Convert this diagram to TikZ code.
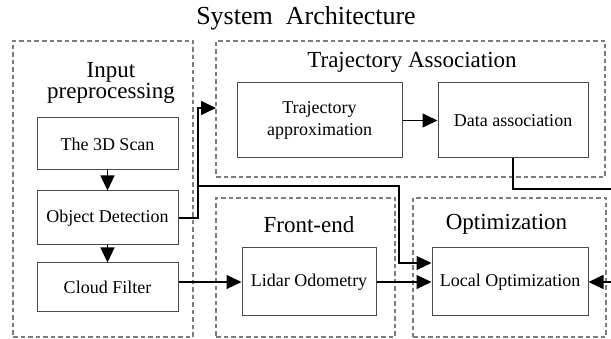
\documentclass[tikz,border=0pt]{standalone}
\usepackage{fontspec}
\setmainfont{Liberation Serif}
\usetikzlibrary{arrows.meta}

\definecolor{boxgray}{HTML}{4A4A4A}
\definecolor{dashgray}{HTML}{7D7D7D}
\newcommand\tightlines{\lineskiplimit=-20pt\relax}

\begin{document}
\begin{tikzpicture}[x=1pt, y=-1pt,
  blk/.style={draw=boxgray, line width=1pt, inner sep=0pt, align=center,
    font=\fontsize{18}{21.6}\selectfont},
  grp/.style={draw=dashgray, line width=2.2pt, dash pattern=on 4.5pt off 3pt, inner sep=0pt},
  ttl/.style={anchor=base, inner sep=0pt, font=\fontsize{23}{17.4}\selectfont},
  wire/.style={draw=black, line width=1.2pt},
  link/.style={wire, -{Triangle[length=15pt,width=14pt]}}
]
\useasboundingbox (0,0) rectangle (611,339);

% heading
\node[anchor=base, inner sep=0pt, font=\fontsize{26}{30}\selectfont] (head) at (306,25) {System~ Architecture};

% dashed groups
\node[grp, minimum width=180pt, minimum height=296pt] (gin)  at (103,189) {};
\node[grp, minimum width=389pt, minimum height=136pt] (gta)  at (410.5,109) {};
\node[grp, minimum width=179pt, minimum height=139pt] (gfe)  at (305.5,267.5) {};
\node[grp, minimum width=193pt, minimum height=139pt] (gopt) at (509.5,267.5) {};

% group titles (two tightly set lines for the input group)
\node[inner sep=0pt, align=center,
  font={\fontsize{23}{20.5}\selectfont\tightlines}] (tin) at (111,83) {Input\\preprocessing};
\node[ttl] (tta)  at (412,68) {Trajectory Association};
\node[ttl] (tfe)  at (309,233) {Front-end};
\node[ttl] (topt) at (506.5,229.5) {Optimization};

% processing blocks
\node[blk, minimum width=141pt, minimum height=52pt] (scan) at (107.5,144) {The 3D Scan};
\node[blk, minimum width=141pt, minimum height=54pt] (det)  at (107.5,218) {Object Detection};
\node[blk, minimum width=141pt, minimum height=49pt] (cf)   at (107.5,287.5) {Cloud Filter};
\node[blk, minimum width=165pt, minimum height=75pt] (tapp) at (319.5,120.5) {Trajectory\\approximation};
\node[blk, minimum width=150pt, minimum height=75pt] (dass) at (513,120.5) {Data association};
\node[blk, minimum width=134pt, minimum height=68pt] (lodo) at (309,282) {Lidar Odometry};
\node[blk, minimum width=156pt, minimum height=68pt] (lopt) at (510,282) {Local Optimization};

% routing points
\coordinate (split)    at (198,186);
\coordinate (taIn)     at (216,108);
\coordinate (bend)     at (399,263);
\coordinate (rightOut) at (611,189);
\coordinate (rightIn)  at (611,282);

% connectors
\draw[link] (scan) -- (det);
\draw[link] (det) -- (cf);
\draw[link] (det.east) -| (split) |- (taIn);
\draw[link] (split) -| (bend) -- (bend -| lopt.west);
\draw[link] (cf.east |- lodo.west) -- (lodo.west);
\draw[link] (lodo) -- (lopt);
\draw[link] (tapp) -- (dass);
\draw[wire] (dass.south) |- (rightOut);
\draw[link] (rightIn) -- (lopt.east);
\end{tikzpicture}
\end{document}
